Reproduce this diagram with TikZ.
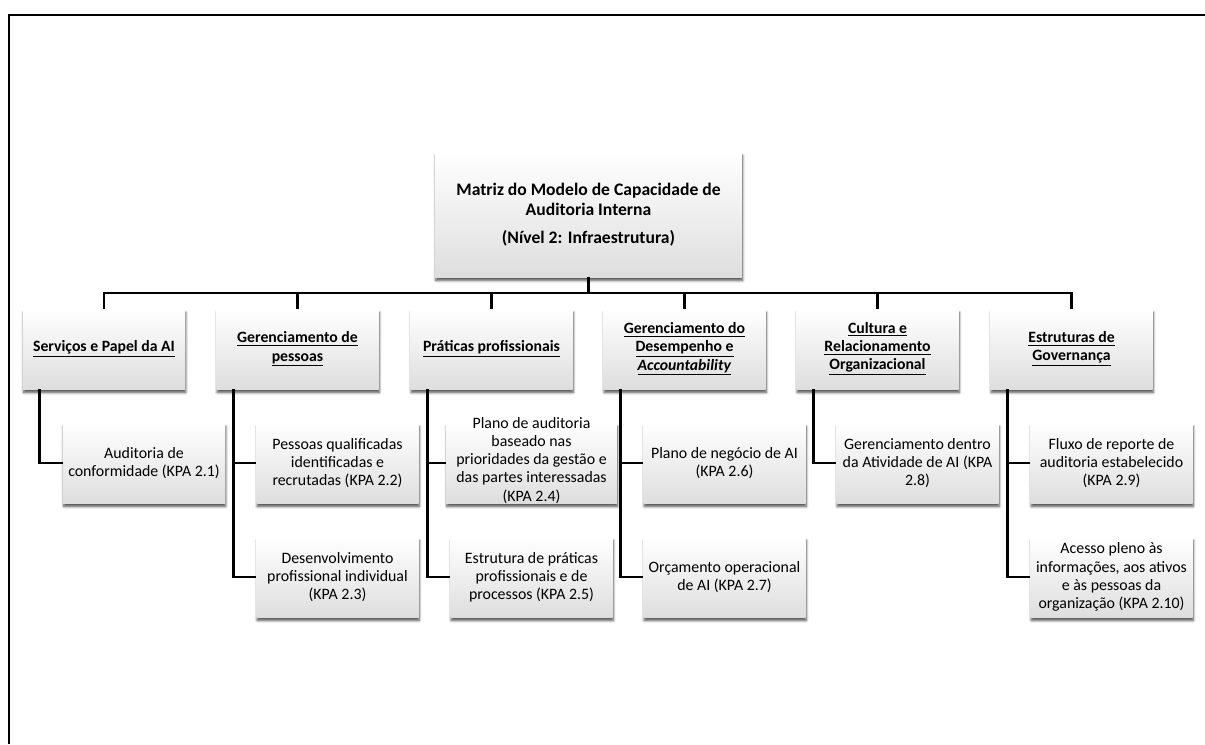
\documentclass[tikz,border=0pt]{standalone}
\usepackage{fontspec}
\setmainfont{Carlito}
\usetikzlibrary{shadows.blur}

\newcommand{\hdl}[1]{\underline{#1}}

\tikzset{
  box/.style={rectangle, align=center, inner sep=1pt,
    top color=white, bottom color=black!13,
    blur shadow={shadow xshift=0.5pt, shadow yshift=-2.6pt,
      shadow blur steps=6, shadow opacity=70}},
  area/.style={box, minimum width=121.5pt, minimum height=60pt,
    font=\fontsize{11.8pt}{13.6pt}\selectfont\bfseries},
  kpa/.style={box, minimum width=121.5pt, minimum height=60pt,
    font=\fontsize{11.9pt}{13.6pt}\selectfont},
  link/.style={line width=2pt},
}

\begin{document}
\begin{tikzpicture}[x=0.75pt, y=-0.75pt]
\useasboundingbox (0,0) rectangle (1205,744);
\draw[line width=1.5pt] (9,744) -- (9,15) -- (1205,15);

\node[box, minimum width=230pt, minimum height=93.75pt,
  font=\fontsize{13.2pt}{15.2pt}\selectfont\bfseries] (matriz) at (588.5,214.5)
  {Matriz do Modelo de Capacidade de\\Auditoria Interna\\[6pt](Nível 2: Infraestrutura)};

% areas
\node[area] (srv) at (104,349) {\hdl{Serviços e Papel da AI}};
\node[area] (pes) at (297.5,349) {\hdl{Gerenciamento de}\\\hdl{pessoas}};
\node[area] (prat) at (491.5,349) {\hdl{Práticas profissionais}};
\node[area] (desemp) at (684.5,349) {\hdl{Gerenciamento do}\\\hdl{Desempenho e}\\\hdl{\textit{Accountability}}};
\node[area] (cult) at (877.5,349) {\hdl{Cultura e}\\\hdl{Relacionamento}\\\hdl{Organizacional}};
\node[area] (gov) at (1071.5,349) {\hdl{Estruturas de}\\\hdl{Governança}};

% KPAs
\node[kpa] (kpa21) at (144,463) {Auditoria de\\conformidade (KPA 2.1)};
\node[kpa] (kpa22) at (337.5,463) {Pessoas qualificadas\\identificadas e\\recrutadas (KPA 2.2)};
\node[kpa] (kpa23) at (337.5,577) {Desenvolvimento\\profissional individual\\(KPA 2.3)};
\node[kpa] (kpa24) at (531.5,463) {\raisebox{-2pt}{\smash{\parbox[c]{126pt}{\centering Plano de auditoria\\baseado nas\\prioridades da gestão e\\das partes interessadas\\(KPA 2.4)}}}};
\node[kpa] (kpa25) at (531.5,577) {Estrutura de práticas\\profissionais e de\\processos (KPA 2.5)};
\node[kpa] (kpa26) at (724.5,463) {Plano de negócio de AI\\(KPA 2.6)};
\node[kpa] (kpa27) at (724.5,577) {Orçamento operacional\\de AI (KPA 2.7)};
\node[kpa] (kpa28) at (917.5,463) {Gerenciamento dentro\\da Atividade de AI (KPA\\2.8)};
\node[kpa] (kpa29) at (1111.5,463) {Fluxo de reporte de\\auditoria estabelecido\\(KPA 2.9)};
\node[kpa] (kpa210) at (1111.5,577) {Acesso pleno às\\informações, aos ativos\\e às pessoas da\\organização (KPA 2.10)};

% tree
\coordinate (bus) at (588.5,293);
\draw[link] (matriz.south) -- (bus);
\draw[link] (srv.north) |- (bus) -| (gov.north);
\foreach \n in {pes,prat,desemp,cult}
  \draw[link] (\n.north) -- (\n.north |- bus);

\draw[link] ([xshift=12.75pt]srv.south west) |- (kpa21.west);
\draw[link] ([xshift=12.75pt]pes.south west) |- (kpa23.west);
\draw[link] (kpa22.west) -| ([xshift=12.75pt]pes.south west);
\draw[link] ([xshift=12.75pt]prat.south west) |- (kpa25.west);
\draw[link] (kpa24.west) -| ([xshift=12.75pt]prat.south west);
\draw[link] ([xshift=12.75pt]desemp.south west) |- (kpa27.west);
\draw[link] (kpa26.west) -| ([xshift=12.75pt]desemp.south west);
\draw[link] ([xshift=12.75pt]cult.south west) |- (kpa28.west);
\draw[link] ([xshift=12.75pt]gov.south west) |- (kpa210.west);
\draw[link] (kpa29.west) -| ([xshift=12.75pt]gov.south west);
\end{tikzpicture}
\end{document}
